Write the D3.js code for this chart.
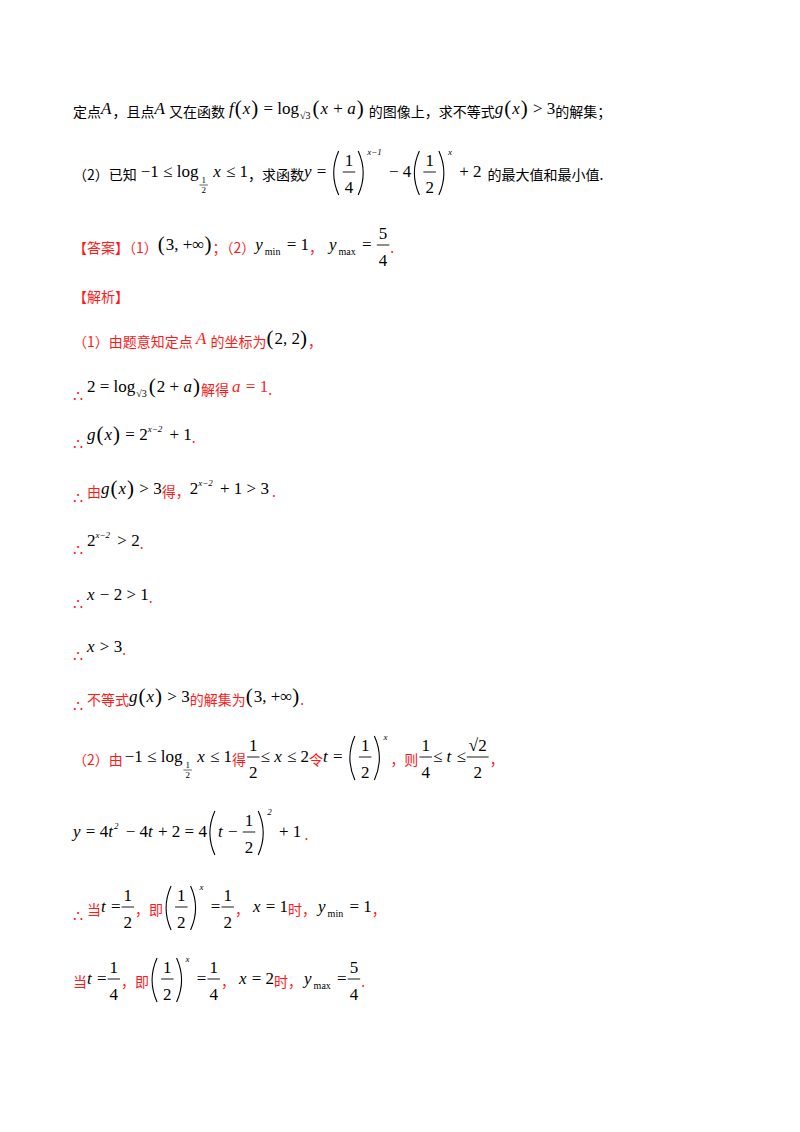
<!DOCTYPE html>
<html><head><meta charset="utf-8">
<script src="https://cdn.jsdelivr.net/npm/d3@7"></script>
<style>body{margin:0;background:#fff}</style>
</head><body>
<svg id="pg" width="800" height="1132"></svg>
<script>
// token helpers
var RED = "#ff1a1a";
function C(s, c){ return {k:"cn", s:s, c:c || "#000"}; }
function R(s){ return C(s, RED); }
function I(s, c){ return {k:"it", s:s, c:c}; }
function M(s, c){ return {k:"rm", s:s, c:c}; }
function P(s){ return {k:"p", s:s}; }
function B(s){ return {k:"bp", s:s}; }
function SB(s){ return {k:"sub", s:s}; }
function SP(s){ return {k:"sup", s:s}; }
function F(n, d){ return {k:"fr", n:n, d:d}; }
function SF(n, d){ return {k:"sfr", n:n, d:d}; }
function G(w){ return {k:"sp", w:w}; }
function T(){ return {k:"there", s:"∴"}; }

// line baselines
var lineY = [117, 180, 253, 302, 347, 395, 443, 497, 549, 603, 655, 705, 765, 840, 915, 987];

// text of each line
var lines = [
  [C("定点"), I("A"), C("，且点"), I("A"), C(" 又在函数"), G(4), I("f"), P("("), I("x"), P(")"), M(" = log"), SB("√3"), P("("), I("x"), M(" + "), I("a"), P(")"), G(4), C("的图像上，求不等式"), I("g"), P("("), I("x"), P(")"), M(" > 3"), C("的解集；")],
  [C("（2）已知"), G(4), M("−1 ≤ log"), SF("1","2"), I(" x"), M(" ≤ 1"), C("，求函数"), I("y"), M(" = "), B("("), F("1","4"), B(")"), SP("x−1"), M(" − 4"), B("("), F("1","2"), B(")"), SP("x"), M(" + 2"), G(6), C("的最大值和最小值.")],
  [R("【答案】（1）"), P("("), M("3, +∞"), P(")"), R("；（2）"), I("y"), SB("min"), M(" = 1"), R("，"), G(6), I("y"), SB("max"), M(" = "), F("5","4"), R(".")],
  [R("【解析】")],
  [R("（1）由题意知定点 "), I("A", RED), R(" 的坐标为"), P("("), M("2, 2"), P(")"), R("，")],
  [T(), M("2 = log"), SB("√3"), P("("), M("2 + "), I("a"), P(")"), R("解得 "), I("a", RED), M(" = 1", RED), R(".")],
  [T(), I("g"), P("("), I("x"), P(")"), M(" = 2"), SP("x−2"), M(" + 1"), R(".")],
  [T(), R("由"), I("g"), P("("), I("x"), P(")"), M(" > 3"), R("得，"), M("2"), SP("x−2"), M(" + 1 > 3"), R(" .")],
  [T(), M("2"), SP("x−2"), M(" > 2"), R(".")],
  [T(), I("x"), M(" − 2 > 1"), R(".")],
  [T(), I("x"), M(" > 3"), R(".")],
  [T(), R("不等式"), I("g"), P("("), I("x"), P(")"), M(" > 3"), R("的解集为"), P("("), M("3, +∞"), P(")"), R(".")],
  [R("（2）由"), G(2), M("−1 ≤ log"), SF("1","2"), I(" x"), M(" ≤ 1"), R("得"), F("1","2"), M("≤ "), I("x"), M(" ≤ 2"), R("令"), I("t"), M(" = "), B("("), F("1","2"), B(")"), SP("x"), R("，则"), F("1","4"), M("≤ "), I("t"), M(" ≤"), F("√2","2"), R("，")],
  [I("y"), M(" = 4"), I("t"), SP("2"), M(" − 4"), I("t"), M(" + 2 = 4"), B("("), I("t"), M(" − "), F("1","2"), B(")"), SP("2"), M(" + 1"), R(" .")],
  [T(), R("当"), I("t"), M(" ="), F("1","2"), R("，即"), B("("), F("1","2"), B(")"), SP("x"), M(" ="), F("1","2"), R("，"), G(4), I("x"), M(" = 1"), R("时，"), G(2), I("y"), SB("min"), M(" = 1"), R("，")],
  [R("当"), I("t"), M(" ="), F("1","4"), R("，即"), B("("), F("1","2"), B(")"), SP("x"), M(" ="), F("1","4"), R("，"), G(4), I("x"), M(" = 2"), R("时，"), G(2), I("y"), SB("max"), M(" ="), F("5","4"), R(".")]
];

var svg = d3.select("#pg");
var CJK = "Noto Sans CJK SC", SER = "Liberation Serif";

function put(g, x, y, s, font, size, opt){
  opt = opt || {};
  var t = g.append("text").attr("x", x).attr("y", y).text(s)
    .style("font-family", font).style("font-size", size + "px")
    .attr("fill", opt.c || "#000")
    .style("white-space", "pre");
  if(opt.it) t.style("font-style", "italic");
  if(opt.anchor) t.attr("text-anchor", opt.anchor);
  return t.node().getComputedTextLength();
}

lines.forEach(function(line, li){
  var y = lineY[li], mb = y - 3, x = 73, prev = null;
  var g = svg.append("g");
  line.forEach(function(t){
    if(t.k == "cn") x += put(g, x, y, t.s, CJK, 14, {c:t.c});
    else if(t.k == "there") x += put(g, x, y + 7, "∴ ", SER, 16, {c:RED});
    else if(t.k == "it") x += put(g, x, mb, t.s, SER, 17, {it:true, c:t.c}) + 1;
    else if(t.k == "rm") x += put(g, x, mb, t.s, SER, 17, {c:t.c});
    else if(t.k == "p") x += put(g, x, mb + 1, t.s, SER, 21) + 1;
    else if(t.k == "bp"){
      var top = mb - 26, bot = mb + 18, mid = (top + bot) / 2;
      var d = t.s == "("
        ? "M" + (x + 8) + "," + top + "Q" + (x - 2) + "," + mid + " " + (x + 8) + "," + bot
        : "M" + (x + 2) + "," + top + "Q" + (x + 12) + "," + mid + " " + (x + 2) + "," + bot;
      g.append("path").attr("d", d).attr("fill", "none").attr("stroke", "#000").attr("stroke-width", 1.1);
      x += 11;
    }
    else if(t.k == "sub") x += put(g, x + 1, mb + 5, t.s, SER, 10) + 3;
    else if(t.k == "sup") x += put(g, x, mb - (prev && prev.k == "bp" ? 22 : 8), t.s, SER, 9, {it:true}) + 3;
    else if(t.k == "sp") x += t.w;
    else if(t.k == "fr" || t.k == "sfr"){
      var sz = t.k == "fr" ? 17 : 9;
      var tmp = g.append("text").style("font-family", SER).style("font-size", sz + "px").text(t.n.length > t.d.length ? t.n : t.d);
      var w = tmp.node().getComputedTextLength() + 4; tmp.remove();
      var cx = x + w / 2 + 1;
      if(t.k == "fr"){
        put(g, cx, mb - 11, t.n, SER, sz, {anchor:"middle"});
        put(g, cx, mb + 16, t.d, SER, sz, {anchor:"middle"});
        g.append("line").attr("x1", x + 1).attr("x2", x + w + 1).attr("y1", mb - 5).attr("y2", mb - 5).attr("stroke", "#000").attr("stroke-width", 0.9);
      } else {
        put(g, cx, mb + 6, t.n, SER, sz, {anchor:"middle"});
        put(g, cx, mb + 16, t.d, SER, sz, {anchor:"middle"});
        g.append("line").attr("x1", x + 1).attr("x2", x + w + 1).attr("y1", mb + 8).attr("y2", mb + 8).attr("stroke", "#000").attr("stroke-width", 0.6);
      }
      x += w + 2;
    }
    prev = t;
  });
});
</script>
</body></html>
